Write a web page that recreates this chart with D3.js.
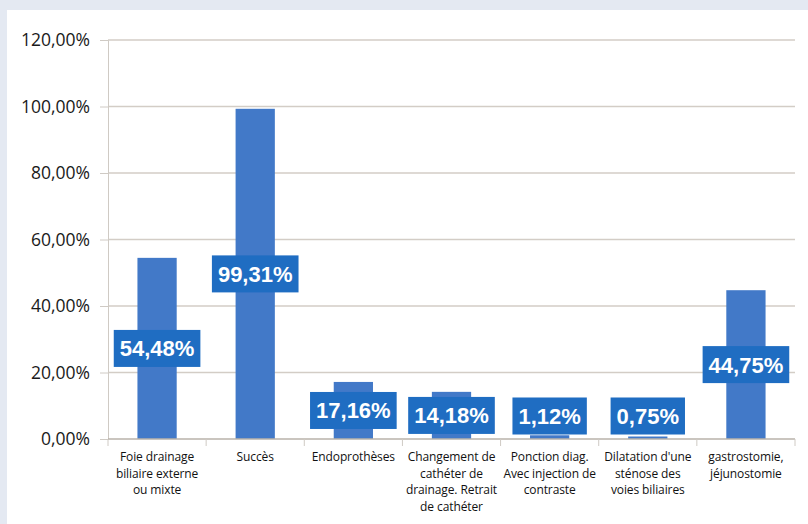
<!DOCTYPE html>
<html>
<head>
<meta charset="utf-8">
<script src="https://cdn.jsdelivr.net/npm/d3@7"></script>
<style>
  body { margin: 0; background: #e4e9f2; }
  #chart { width: 808px; height: 524px; }
  .tick text { font-family: "Open Sans", sans-serif; }
</style>
</head>
<body>
<div id="chart"></div>
<script>
// datos del grafico
const categories = [
  ["Foie drainage", "biliaire externe", "ou mixte"],
  ["Succès"],
  ["Endoprothèses"],
  ["Changement de", "cathéter de", "drainage. Retrait", "de cathéter"],
  ["Ponction diag.", "Avec injection de", "contraste"],
  ["Dilatation d'une", "sténose des", "voies biliaires"],
  ["gastrostomie,", "jéjunostomie"]
];
const values = [54.48, 99.31, 17.16, 14.18, 1.12, 0.75, 44.75];
const yTicks = [0, 20, 40, 60, 80, 100, 120];

const totalWidth = 808;
const totalHeight = 524;
const margins = { top: 40, right: 13, bottom: 85, left: 108 };
const chartWidth = totalWidth - margins.left - margins.right;
const chartHeight = totalHeight - margins.top - margins.bottom;

const root = d3.select("#chart")
  .append("svg")
  .attr("width", totalWidth)
  .attr("height", totalHeight);

// panel blanco
root.append("rect")
  .attr("x", 7).attr("y", 10)
  .attr("width", totalWidth - 7).attr("height", totalHeight - 10)
  .attr("fill", "#ffffff");

const svg = root.append("g")
  .attr("transform", `translate(${margins.left}, ${margins.top})`);

const idx = categories.map((d, i) => i);
const x = d3.scaleBand().domain(idx).range([0, chartWidth]).paddingInner(0.6).paddingOuter(0.3);
const xb = d3.scaleBand().domain(idx).range([0, chartWidth]);
const y = d3.scaleLinear().domain([0, 120]).range([chartHeight, 0]);

const fmt = (v) => d3.format(".2f")(v).replace(".", ",") + "%";

// lineas de cuadricula
svg.append("g")
  .selectAll("line")
  .data(yTicks.slice(1))
  .join("line")
  .attr("x1", 0).attr("x2", chartWidth)
  .attr("y1", (d) => y(d)).attr("y2", (d) => y(d))
  .attr("stroke", "#d3cdc6").attr("stroke-width", 1.3);

// eje y
const yAxis = svg.append("g")
  .call(d3.axisLeft(y).tickValues(yTicks).tickFormat(fmt).tickSize(8).tickPadding(10));
yAxis.select(".domain").attr("stroke", "#cfcac4");
yAxis.selectAll(".tick line").attr("stroke", "#cfcac4");
yAxis.selectAll(".tick text").attr("font-size", 17.5).attr("fill", "#1a1a1a");

// barras
svg.selectAll("rect.bar")
  .data(values)
  .join("rect")
  .attr("class", "bar")
  .attr("x", (d, i) => x(i))
  .attr("y", (d) => y(d))
  .attr("width", x.bandwidth())
  .attr("height", (d) => chartHeight - y(d))
  .attr("fill", "#4279c8");

// eje x
svg.append("line")
  .attr("x1", 0).attr("x2", chartWidth)
  .attr("y1", chartHeight).attr("y2", chartHeight)
  .attr("stroke", "#b9b2aa").attr("stroke-width", 1.3);
svg.append("g")
  .selectAll("line")
  .data(d3.range(categories.length + 1))
  .join("line")
  .attr("x1", (d) => d * xb.step()).attr("x2", (d) => d * xb.step())
  .attr("y1", chartHeight).attr("y2", chartHeight + 7)
  .attr("stroke", "#cfcac4");

// etiquetas de categorias
const catLabels = svg.append("g")
  .selectAll("text")
  .data(categories)
  .join("text")
  .attr("x", (d, i) => xb(i) + xb.bandwidth() / 2)
  .attr("y", chartHeight + 22)
  .attr("text-anchor", "middle")
  .attr("font-family", "'Open Sans', sans-serif")
  .attr("font-size", 12)
  .attr("letter-spacing", -0.1)
  .attr("fill", "#111");
catLabels.selectAll("tspan")
  .data((d) => d)
  .join("tspan")
  .attr("x", function () { return d3.select(this.parentNode).attr("x"); })
  .attr("dy", (d, i) => (i === 0 ? 0 : 16.5))
  .text((d) => d);

// etiquetas de valores
const labels = svg.append("g")
  .selectAll("g")
  .data(values)
  .join("g")
  .attr("transform", (d, i) => {
    const cy = Math.min((y(d) + chartHeight) / 2, chartHeight - 23);
    return `translate(${x(i) + x.bandwidth() / 2}, ${cy})`;
  });
labels.append("text")
  .attr("text-anchor", "middle")
  .attr("dy", "0.36em")
  .attr("font-family", "Arial, 'Liberation Sans', sans-serif")
  .attr("font-weight", "bold")
  .attr("font-size", 22)
  .attr("fill", "#ffffff")
  .text(fmt);
labels.each(function () {
  const g = d3.select(this);
  const bb = g.select("text").node().getBBox();
  g.insert("rect", "text")
    .attr("x", bb.x - 6).attr("y", -18.5)
    .attr("width", bb.width + 12).attr("height", 37)
    .attr("fill", "#1f6dc2");
});
</script>
</body>
</html>
